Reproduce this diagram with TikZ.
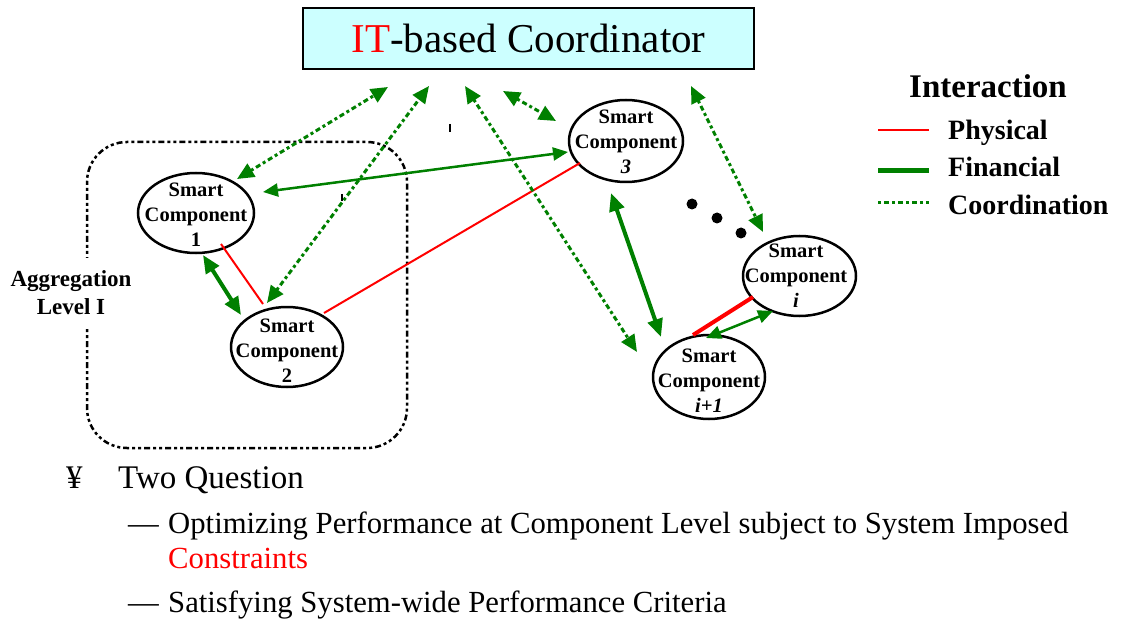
\documentclass[tikz,border=0pt]{standalone}
\usepackage{fontspec}
\setmainfont{Liberation Serif}
\usetikzlibrary{arrows.meta,shapes.geometric,calc}
\definecolor{ggreen}{RGB}{0,128,0}
\definecolor{lcyan}{RGB}{204,255,255}
\begin{document}
\begin{tikzpicture}[x=1pt,y=-1pt,
  smart/.style={ellipse,draw,line width=2.5pt,inner sep=0pt},
  smarttext/.style={align=center,font=\bfseries\fontsize{20.5}{25}\selectfont,inner sep=0pt},
  coorddash/.style={ggreen,line width=3pt,dash pattern=on 3pt off 3pt on 5pt off 3pt},
  coordarrow/.style={coorddash,arrows={Triangle[length=17pt,width=15pt]-Triangle[length=17pt,width=15pt]}},
  finarrow/.style={ggreen,line width=2.5pt,arrows={Triangle[length=15pt,width=13pt]-Triangle[length=15pt,width=13pt]}},
  finthick/.style={ggreen,line width=4pt,arrows={Triangle[length=18pt,width=15pt]-Triangle[length=18pt,width=15pt]}},
  phys/.style={red,line width=2pt},
  physthick/.style={red,line width=4pt},
  aggbox/.style={line width=2.5pt,dash pattern=on 3pt off 3pt on 3pt off 3pt on 6pt off 3pt,rounded corners=40pt},
  legtext/.style={anchor=base west,font=\bfseries\fontsize{28}{28}\selectfont,inner sep=0pt},
  bodytext/.style={anchor=base west,font=\fontsize{30.7}{30.7}\selectfont,inner sep=0pt},
]
\useasboundingbox (0,0) rectangle (1126,620);

% coordinator
\node[draw,line width=2.5pt,fill=lcyan,minimum width=451pt,minimum height=61pt,inner sep=0pt,
      font=\fontsize{41}{41}\selectfont] (coord) at (528.5,38.5) {\textcolor{red}{IT}-based Coordinator};

% aggregation box
\draw[aggbox] (87,142) rectangle (407,448);
\node[align=center,fill=white,inner xsep=2pt,inner ysep=13pt,
      font=\bfseries\fontsize{23}{28}\selectfont] (agg) at (71,293) {Aggregation\\Level I};

% smart components
\node[smart,minimum width=116pt,minimum height=80pt] (sc1) at (196,213) {};
\node[smart,minimum width=112pt,minimum height=80pt] (sc2) at (287,347) {};
\node[smart,minimum width=114pt,minimum height=82pt] (sc3) at (626,141) {};
\node[smart,minimum width=113pt,minimum height=80pt] (sci) at (799.5,276) {};
\node[smart,minimum width=112pt,minimum height=84pt] (scj) at (709,377) {};
\node[smarttext] (sc1t) at (196,215) {Smart\\Component\\1};
\node[smarttext] (sc2t) at (287,351) {Smart\\Component\\2};
\node[smarttext] (sc3t) at (626,142) {Smart\\Component\\\textit{3}};
\node[smarttext] (scit) at (796,276) {Smart\\Component\\\textit{i}};
\node[smarttext] (scjt) at (709,381) {Smart\\Component\\\textit{i+1}};

% physical
\draw[phys] ($(sc1.center)+(25,31)$) -- ($(sc2.center)+(-24,-43)$);
\draw[phys] ($(sc2.center)+(37,-34)$) -- ($(sc3.center)+(-46,22)$);
\draw[physthick] ($(scj.center)+(-16,-42)$) -- ($(sci.center)+(-46.5,21)$);

% financial
\draw[finarrow] ($(sc3.center)+(-58,11)$) -- ($(sc1.center)+(67,-21)$);
\draw[finthick] ($(sc1.center)+(7,42)$) -- ($(sc2.center)+(-46,-32)$);
\draw[finthick] ($(sc3.center)+(-15,52)$) -- ($(scj.center)+(-48,-40)$);
\draw[finarrow] ($(scj.center)+(-3,-39)$) -- ($(sci.center)+(-26.5,35)$);

% coordination
\draw[coordarrow] ($(sc1.center)+(41,-34)$) -- ($(coord.center)+(-140.5,48.5)$);
\draw[coordarrow] ($(sc2.center)+(-20,-44)$) -- ($(coord.center)+(-99.5,47.5)$);
\draw[coordarrow] ($(coord.center)+(-63.5,47.5)$) -- ($(scj.center)+(-72,-25)$);
\draw[coordarrow] ($(coord.center)+(-25.5,52.5)$) -- ($(sc3.center)+(-70,-20)$);
\draw[coordarrow] ($(coord.center)+(162.5,47.5)$) -- ($(sci.center)+(-36.5,-44)$);

% dots
\fill (692,204) circle (5.5pt);
\fill (717,218) circle (5.5pt);
\fill (741,233) circle (5.5pt);

% stray marks
\draw[line width=2pt] (450,124) -- (450,132);
\draw[line width=2pt] (342,194) -- (342,201);

% legend
\node[anchor=base,font=\bfseries\fontsize{33}{33}\selectfont,inner sep=0pt] (legt) at (988,98) {Interaction};
\coordinate (l1a) at (878,130); \coordinate (l1b) at (929,130);
\coordinate (l2a) at (878,171); \coordinate (l2b) at (929,171);
\coordinate (l3a) at (878,203); \coordinate (l3b) at (929,203);
\draw[red,line width=2.5pt] (l1a) -- (l1b);
\draw[ggreen,line width=5pt] (l2a) -- (l2b);
\draw[coorddash] (l3a) -- (l3b);
\node[legtext] (leg1) at (948,140) {Physical};
\node[legtext] (leg2) at (948,177) {Financial};
\node[legtext] (leg3) at (948,215) {Coordination};

% bottom text
\node[anchor=base west,font=\fontsize{33}{33}\selectfont,inner sep=0pt] (yen) at (66,488) {¥};
\node[anchor=base west,font=\fontsize{33}{33}\selectfont,inner sep=0pt] (q) at (118,488) {Two Question};
\node[bodytext] (d1) at (128,533) {—};
\node[bodytext] (t1) at (168,533) {Optimizing Performance at Component Level subject to System Imposed};
\node[bodytext,text=red] (t1b) at (168,568) {Constraints};
\node[bodytext] (d2) at (128,612) {—};
\node[bodytext] (t2) at (168,612) {Satisfying System-wide Performance Criteria};
\end{tikzpicture}
\end{document}
